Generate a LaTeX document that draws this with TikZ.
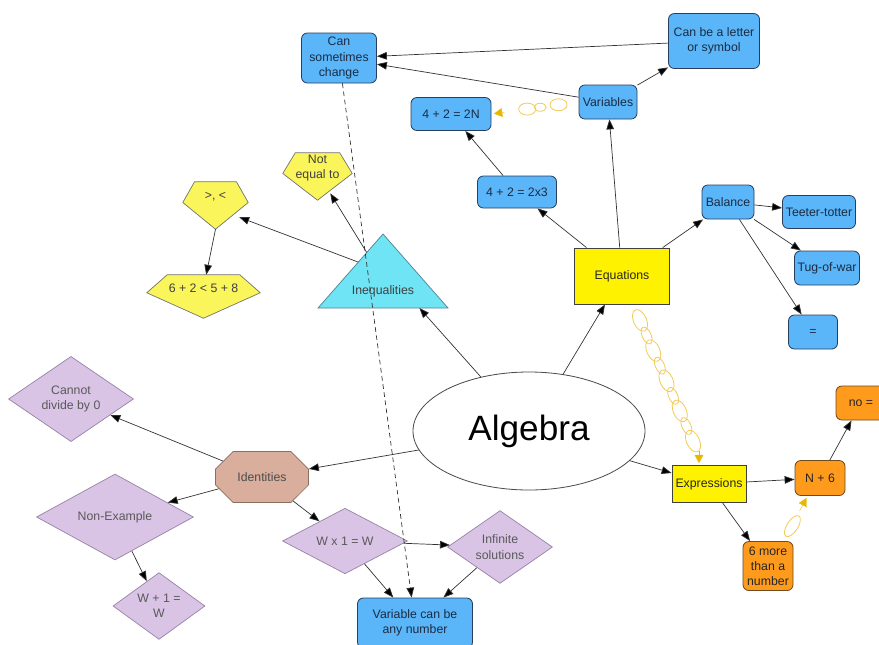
\documentclass[tikz,border=0pt]{standalone}
\usepackage{fontspec}
\setmainfont{Liberation Sans}
\usetikzlibrary{
    arrows.meta,
    shapes.geometric,
    shapes.misc,
    calc,
    backgrounds
}
\newdimen\pxu
\pxu=0.03cm
\definecolor{boxblue}{RGB}{90,182,248}
\definecolor{boxline}{RGB}{40,62,95}
\definecolor{pentyellow}{RGB}{250,245,90}
\definecolor{triacyan}{RGB}{110,228,244}
\definecolor{trialine}{RGB}{80,130,150}
\definecolor{diamlilac}{RGB}{218,196,230}
\definecolor{diamline}{RGB}{150,130,165}
\definecolor{octtan}{RGB}{218,174,156}
\definecolor{octline}{RGB}{140,110,95}
\definecolor{boxorange}{RGB}{255,155,28}
\definecolor{orangeline}{RGB}{110,75,30}
\definecolor{linkgold}{RGB}{242,204,90}
\definecolor{tipgold}{RGB}{232,184,0}

\begin{document}
\begin{tikzpicture}[x=0.03cm, y=-0.03cm,
    >={Triangle[length=8.5pt,width=6.5pt]},
    every node/.style={font=\fontsize{10.5}{13}\selectfont, align=center, inner sep=1pt},
    wh/.style 2 args={minimum width=#1*\pxu, minimum height=#2*\pxu},
    link/.style={draw=black!80, line width=0.6pt},
    bluebox/.style={rectangle, rounded corners=5pt, draw=boxline, fill=boxblue, text=boxline!70!black, line width=0.7pt},
    yellowbox/.style={rectangle, draw=black!75, fill=yellow, text=black!85, line width=0.7pt},
    orangebox/.style={rectangle, rounded corners=5pt, draw=orangeline, fill=boxorange, text=black!85, line width=0.7pt},
    lilac/.style={diamond, aspect=1, inner sep=0pt, draw=diamline, fill=diamlilac, text=black!65, line width=0.6pt},
    octa/.style={chamfered rectangle, chamfered rectangle xsep=12*\pxu, chamfered rectangle ysep=13*\pxu, inner sep=0pt, draw=octline, fill=octtan, text=black!70, line width=0.6pt},
    pent/.style={rectangle, text=black!75},
    pentline/.style={draw=black!55, fill=pentyellow, line width=0.6pt},
    tri/.style={draw=trialine, fill=triacyan, line width=0.6pt},
    alg/.style={ellipse, draw=black!70, fill=white, line width=0.7pt, font=\fontsize{30}{36}\selectfont},
    chainlink/.style={draw=linkgold, line width=0.7pt},
    goldtip/.style={draw=tipgold, line width=0.3pt, -{Triangle[length=7pt,width=7.5pt]}}
]
\useasboundingbox (0,0) rectangle (879,644);

\coordinate (ineqtop) at (383,234);
\coordinate (ineqleft) at (318,308);
\coordinate (ineqright) at (448,308);
\filldraw[tri] (ineqtop) -- (ineqleft) -- (ineqright) -- cycle;
\node[text=black!75] (ineq) at (383,291) {Inequalities};

\node[bluebox, wh={75}{50}] (csc) at (339,58) {Can\\sometimes\\change};
\node[bluebox, wh={91}{55}] (letter) at (714,41) {Can be a letter\\or symbol};
\node[bluebox, wh={58}{34}] (var) at (608,102) {Variables};
\node[bluebox, wh={80}{33}] (twoN) at (451,114) {4 + 2 = 2N};
\node[bluebox, wh={79}{32}] (twox) at (517,192) {4 + 2 = 2x3};
\node[bluebox, wh={52}{34}] (bal) at (728,202) {Balance};
\node[bluebox, wh={73}{33}] (teeter) at (819,212) {Teeter-totter};
\node[bluebox, wh={65}{34}] (tug) at (827,268) {Tug-of-war};
\node[bluebox, wh={49}{34}] (eqsign) at (813,332) {=};
\node[yellowbox, wh={95}{56}] (eqn) at (622,276) {Equations};
\node[yellowbox, wh={74}{37}] (expr) at (709,484) {Expressions};
\node[orangebox, wh={50}{35}] (nsix) at (820,478) {N + 6};
\node[orangebox, wh={50}{34}] (noeq) at (861,403) {no =};
\node[orangebox, wh={50}{49}] (sixmore) at (768,566) {6 more\\than a\\number};
\node[bluebox, wh={115}{50}] (anynum) at (415,623) {Variable can be\\any number};
\node[alg, wh={232}{118}] (alg) at (529,431) {Algebra};
\node[octa, wh={93}{51}] (ident) at (262,477) {Identities};
\node[lilac, wh={125}{61}] (nodiv) at (71,399) {Cannot\\divide by 0};
\node[lilac, wh={157}{75}] (nonex) at (115,517) {Non-Example};
\node[lilac, wh={92}{61}] (wplus) at (159,606) {W + 1 =\\W};
\node[lilac, wh={125}{52}] (wtimes) at (345,541) {W x 1 = W};
\node[lilac, wh={105}{63}] (infsol) at (500,547) {Infinite\\solutions};
\node[pent, wh={65}{30}] (gtlt) at (215.5,197) {>, <};
\node[pent, wh={69}{30}] (neq) at (317.5,168) {Not\\equal to};
\node[pent, wh={113}{26}] (ineqex) at (203.5,288) {6 + 2 < 5 + 8};

\begin{scope}[on background layer]
\foreach \n in {gtlt,neq,ineqex}
    \filldraw[pentline] ($(\n.north west)!.18!(\n.north east)$) -- ($(\n.north west)!.82!(\n.north east)$)
        -- ($(\n.north east)!.68!(\n.south east)$) -- ($(\n.south)+(0,17)$)
        -- ($(\n.north west)!.68!(\n.south west)$) -- cycle;
\end{scope}

\draw[link]
    (var) edge[->] (csc)
    (letter) edge[->] (csc)
    (var) edge[->] (letter)
    (eqn) edge[->] (var)
    (eqn) edge[->] (twox)
    (twox) edge[->] (twoN)
    (eqn) edge[->] (bal)
    (bal) edge[->] (teeter)
    (bal) edge[->] (tug)
    (bal) edge[->] (eqsign)
    (alg) edge[->] (eqn)
    (alg) edge[->] ($(ineqleft)!.78!(ineqright)$)
    ($(ineqtop)!.25!(ineqleft)$) edge[->] ($(neq.south east)+(-22,10)$)
    ($(ineqtop)!.38!(ineqleft)$) edge[->] ($(gtlt.south east)+(-9,5)$)
    ($(gtlt.south)+(0,17)$) edge[->] (ineqex)
    (alg) edge[->] (expr)
    (expr) edge[->] (nsix)
    (expr) edge[->] (sixmore)
    (nsix) edge[->] (noeq)
    (alg) edge[->] (ident)
    (ident) edge[->] (nodiv)
    (ident) edge[->] (nonex)
    (ident) edge[->] (wtimes)
    (nonex) edge[->] (wplus)
    (wtimes) edge[->] (infsol)
    (wtimes) edge[->] (anynum)
    (infsol) edge[->] (anynum);
\draw[link, dash pattern=on 4pt off 3pt] (csc) edge[->] (anynum);

\foreach \p/\rx/\ry in {.41/8.5/6,.56/6/4,.77/8.5/6}
    \draw[chainlink, shift={($(twoN.east)!\p!(var.west)$)}] (0,0) ellipse [x radius=\rx, y radius=\ry];
\draw[goldtip] ($(twoN.east)!.15!(var.west)$) -- ($(twoN.east)!.03!(var.west)$);

\coordinate (linkA) at ($(eqn.south)+(18,16)$);
\coordinate (linkB) at ($(expr.north)+(-16,-24)$);
\foreach \p/\rx/\ry in {0/11.5/6.5,.125/9/4.5,.25/11.5/6.5,.375/9/4.5,.5/11.5/6.5,.625/9/4.5,.75/11.5/6.5,.875/9/4.5,1/11.5/6.5}
    \draw[chainlink, shift={($(linkA)!\p!(linkB)$)}, rotate=-66] (0,0) ellipse [x radius=\rx, y radius=\ry];
\draw[goldtip] ($(expr.north)+(-10,-14)$) -- ($(expr.north)+(-10,-2)$);

\draw[chainlink, shift={($(sixmore.north east)+(-1,-15)$)}, rotate=57] (0,0) ellipse [x radius=12, y radius=5.5];
\draw[goldtip] ($(nsix.south west)+(5,15)$) -- ($(nsix.south west)+(12,2)$);
\end{tikzpicture}
\end{document}
